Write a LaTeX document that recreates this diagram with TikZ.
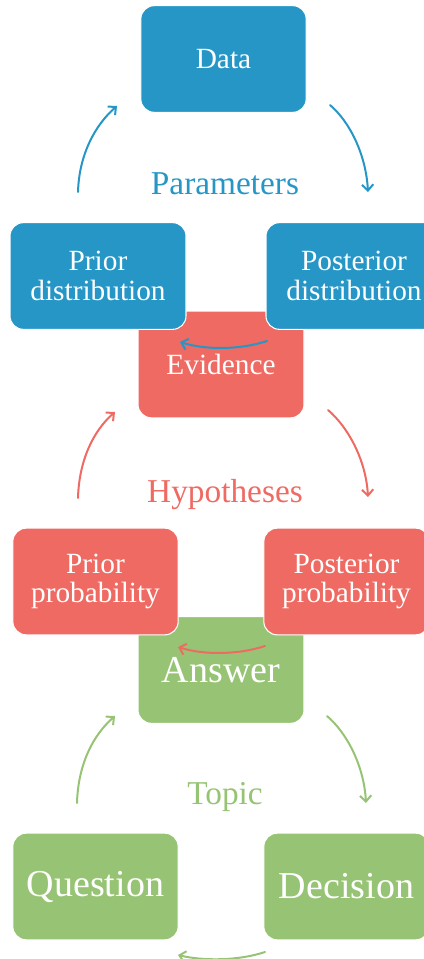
\documentclass[tikz,border=0pt]{standalone}
\usepackage{fontspec}
\setmainfont{Liberation Serif}
\usetikzlibrary{arrows.meta}
\usepackage{xcolor}
\definecolor{cycblue}{HTML}{2596C6}
\definecolor{cycred}{HTML}{EE6A62}
\definecolor{cycgreen}{HTML}{97C474}

\begin{document}
\begin{tikzpicture}[x=0.75pt, y=-0.75pt, >={Straight Barb[length=4.5pt,width=8.5pt]},
  box/.style={rounded corners=10pt, draw=white, line width=0.8pt, text=white, align=center,
    minimum width=124pt, minimum height=80pt, inner sep=0pt, font=\fontsize{22}{22}\selectfont},
  widebox/.style={box, minimum width=132pt},
  bluebox/.style={box, fill=cycblue},
  redbox/.style={box, fill=cycred},
  greenbox/.style={box, fill=cycgreen},
  bigtext/.style={font=\fontsize{28.5}{30}\selectfont},
  cyclabel/.style={anchor=base, font=\fontsize{25}{26}\selectfont},
  cycarrow/.style={->, line width=1.5pt, line cap=round}
]
\useasboundingbox (0,0) rectangle (424,959);
\clip (0,0) rectangle (424,959);
% blue cycle
\node[bluebox] (data) at (223.5,59) {Data};
\node[cyclabel, text=cycblue] (param) at (225,195) {Parameters};
\node[redbox, minimum width=124.5pt] (evid) at (221,364.5) {Evidence};
\node[bluebox, widebox] (pridist) at (98,276) {Prior\\distribution};
\node[bluebox, widebox] (postdist) at (354,276) {Posterior\\distribution};
\coordinate (b1s) at (78,192);
\coordinate (b1e) at (117,106);
\coordinate (b2s) at (330,105);
\coordinate (b2e) at (368,192);
\coordinate (b3s) at (267,341);
\coordinate (b3e) at (180,342);
\draw[cycarrow, cycblue] (b1s) .. controls (79,155) and (95,125) .. (b1e);
\draw[cycarrow, cycblue] (b2s) .. controls (350,122) and (366,155) .. (b2e);
\draw[cycarrow, cycblue] (b3s) .. controls (240,350) and (205,350) .. (b3e);
% red cycle
\node[cyclabel, text=cycred] (hypo) at (225,502) {Hypotheses};
\node[greenbox, bigtext, minimum width=124.5pt] (answer) at (221,670) {Answer};
\node[redbox] (priprob) at (95.5,581.5) {Prior\\probability};
\node[redbox] (postprob) at (346.5,581.5) {Posterior\\probability};
\coordinate (r1s) at (78,498);
\coordinate (r1e) at (115,412);
\coordinate (r2s) at (328,410);
\coordinate (r2e) at (368,497);
\coordinate (r3s) at (265,646);
\coordinate (r3e) at (178,647);
\draw[cycarrow, cycred] (r1s) .. controls (79,461) and (93,431) .. (r1e);
\draw[cycarrow, cycred] (r2s) .. controls (348,427) and (366,460) .. (r2e);
\draw[cycarrow, cycred] (r3s) .. controls (238,655) and (203,655) .. (r3e);
% green cycle
\node[cyclabel, text=cycgreen] (topic) at (225,804) {Topic};
\node[greenbox, bigtext] (quest) at (95.5,886.5) {Question};
\node[greenbox, bigtext] (decis) at (346.5,886.5) {Decision};
\coordinate (g1s) at (77,803);
\coordinate (g1e) at (115,716);
\coordinate (g2s) at (327,716);
\coordinate (g2e) at (366,803);
\coordinate (g3s) at (265,952);
\coordinate (g3e) at (178,955);
\draw[cycarrow, cycgreen] (g1s) .. controls (78,766) and (92,736) .. (g1e);
\draw[cycarrow, cycgreen] (g2s) .. controls (347,733) and (364,766) .. (g2e);
\draw[cycarrow, cycgreen] (g3s) .. controls (238,961) and (203,961) .. (g3e);
\end{tikzpicture}
\end{document}
